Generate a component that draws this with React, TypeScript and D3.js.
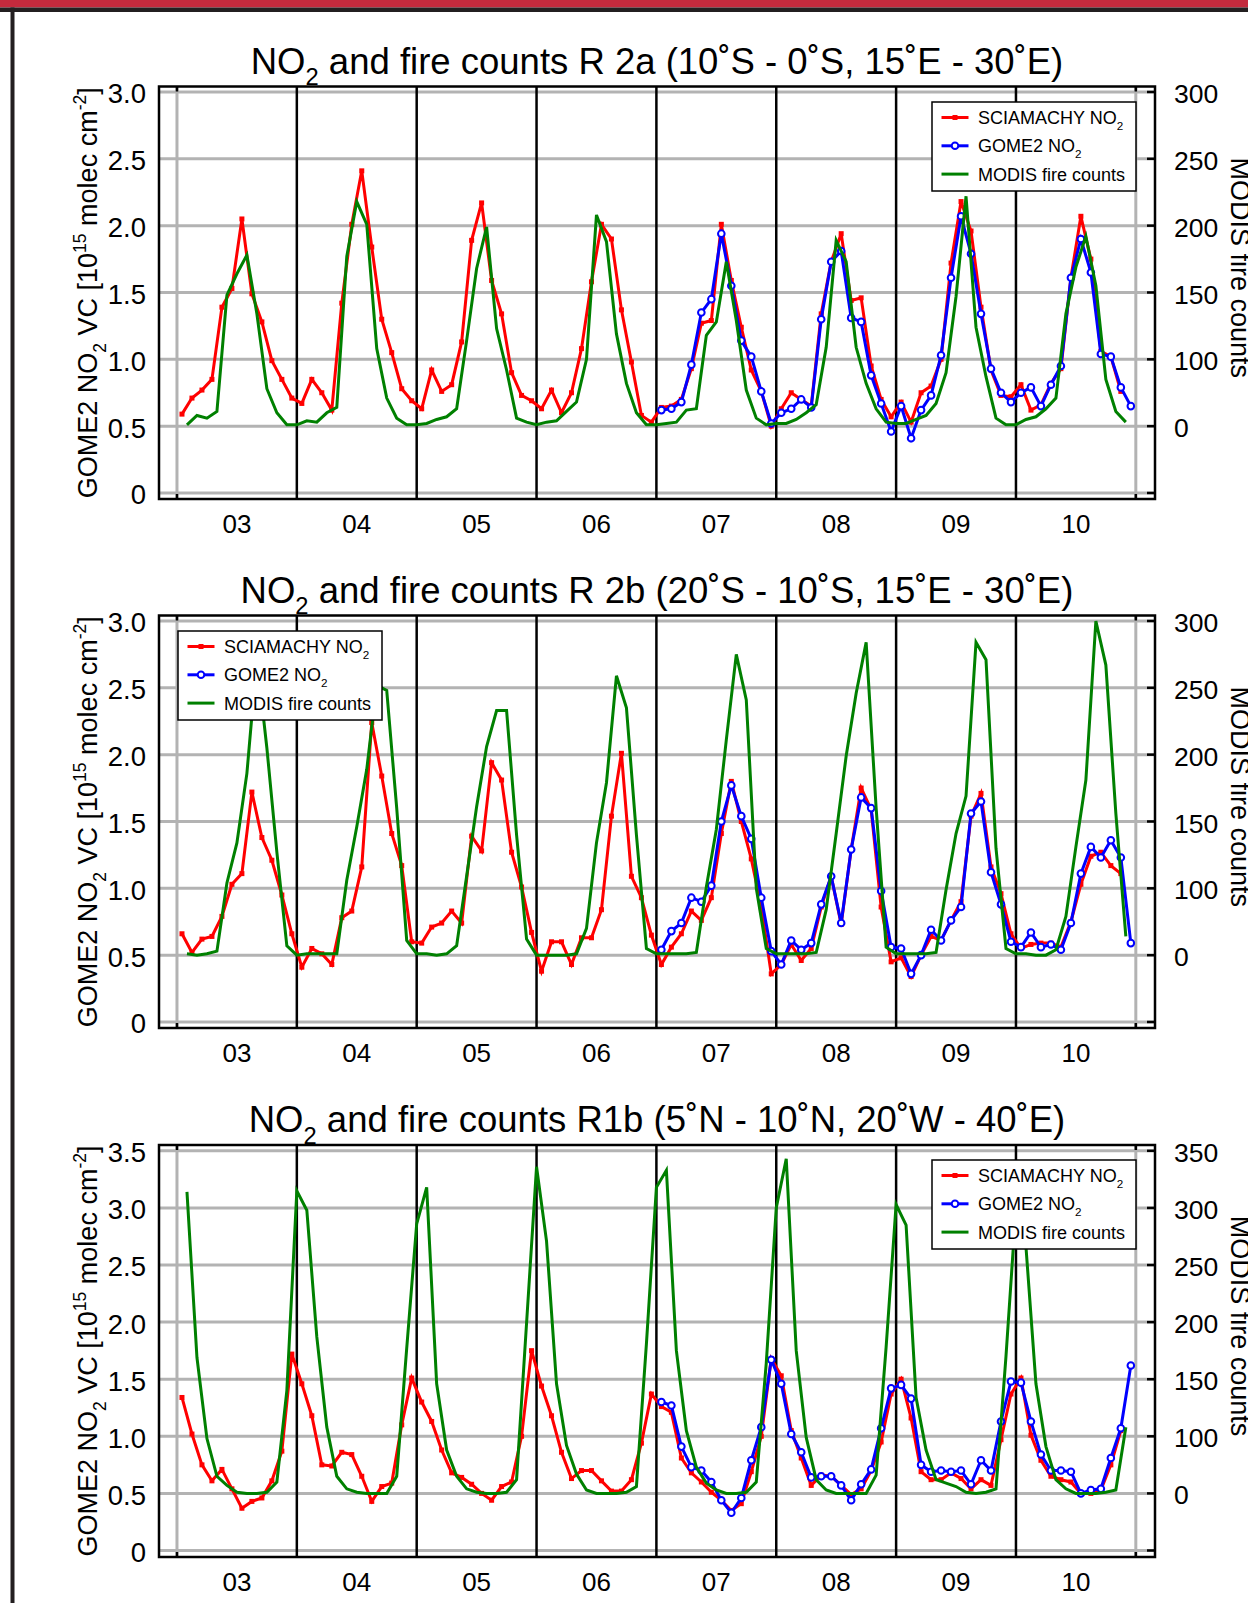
import { useEffect, useRef } from 'react';
import * as d3 from 'd3';

const W = 1248;
const H = 1603;
const FONT = "'Liberation Sans', Arial, Helvetica, sans-serif";

// monthly values, Jan 2003 onwards
const years = [2003, 2004, 2005, 2006, 2007, 2008, 2009, 2010];
const yearLabels = ['03', '04', '05', '06', '07', '08', '09', '10'];

// R 2a : SCIAMACHY (Jan 2003 - Nov 2010), GOME2 (Jan 2007 - Dec 2010), MODIS (counts)
const sciaR2a = [
  0.59, 0.71, 0.77, 0.85, 1.39, 1.53, 2.05, 1.49, 1.28, 0.99, 0.85, 0.71,
  0.67, 0.85, 0.75, 0.62, 1.42, 2.01, 2.41, 1.84, 1.30, 1.05, 0.78, 0.69,
  0.63, 0.92, 0.76, 0.81, 1.13, 1.89, 2.17, 1.59, 1.34, 0.90, 0.73, 0.69,
  0.63, 0.77, 0.60, 0.75, 1.08, 1.58, 2.01, 1.90, 1.37, 0.98, 0.58, 0.53,
  0.64, 0.65, 0.70, 0.93, 1.27, 1.29, 2.01, 1.59, 1.24, 0.92, 0.76, 0.50,
  0.63, 0.75, 0.70, 0.65, 1.34, 1.73, 1.94, 1.44, 1.46, 0.95, 0.70, 0.57,
  0.68, 0.53, 0.75, 0.80, 1.00, 1.72, 2.18, 1.96, 1.39, 0.92, 0.73, 0.72,
  0.81, 0.62, 0.66, 0.82, 0.93, 1.61, 2.07, 1.75, 1.06, 1.02, 0.76,
];
const gomeR2a = [
  0.62, 0.63, 0.68, 0.96, 1.35, 1.45, 1.94, 1.55, 1.14, 1.02, 0.76, 0.52,
  0.60, 0.63, 0.70, 0.64, 1.30, 1.73, 1.81, 1.31, 1.28, 0.88, 0.67, 0.46,
  0.65, 0.41, 0.62, 0.73, 1.03, 1.61, 2.07, 1.79, 1.34, 0.93, 0.75, 0.68,
  0.75, 0.79, 0.65, 0.81, 0.95, 1.61, 1.90, 1.65, 1.04, 1.02, 0.79, 0.65,
];
const modisR2a = [
  51, 58, 56, 61, 148, 164, 178, 134, 78, 60, 51, 51,
  54, 53, 60, 64, 177, 218, 201, 108, 71, 56, 51, 51,
  52, 55, 57, 63, 114, 168, 199, 123, 92, 56, 53, 51,
  53, 54, 61, 68, 100, 208, 188, 119, 82, 60, 51, 51,
  52, 53, 62, 63, 118, 128, 173, 129, 77, 56, 51, 52,
  52, 55, 60, 66, 109, 189, 173, 109, 82, 63, 53, 52,
  52, 55, 58, 67, 90, 147, 222, 124, 87, 56, 51, 51,
  55, 57, 63, 71, 134, 169, 192, 155, 85, 61, 53,
];

// R 2b
const sciaR2b = [
  0.66, 0.52, 0.62, 0.64, 0.79, 1.03, 1.11, 1.72, 1.38, 1.21, 0.95, 0.66,
  0.41, 0.55, 0.51, 0.43, 0.78, 0.83, 1.16, 2.24, 1.84, 1.41, 1.17, 0.60,
  0.59, 0.71, 0.74, 0.83, 0.74, 1.39, 1.28, 1.94, 1.81, 1.27, 1.01, 0.67,
  0.38, 0.60, 0.60, 0.43, 0.63, 0.63, 0.84, 1.54, 2.01, 1.09, 0.93, 0.65,
  0.43, 0.56, 0.66, 0.83, 0.76, 0.93, 1.41, 1.80, 1.50, 1.22, 0.86, 0.36,
  0.43, 0.58, 0.46, 0.55, 0.86, 1.09, 0.73, 1.29, 1.75, 1.59, 0.86, 0.45,
  0.48, 0.34, 0.50, 0.64, 0.61, 0.76, 0.90, 1.54, 1.71, 1.16, 0.96, 0.66,
  0.55, 0.58, 0.59, 0.59, 0.56, 0.75, 1.03, 1.24, 1.27, 1.17, 1.11,
];
const gomeR2b = [
  0.54, 0.68, 0.74, 0.93, 0.90, 1.02, 1.50, 1.77, 1.54, 1.37, 0.93, 0.53,
  0.43, 0.61, 0.54, 0.59, 0.88, 1.09, 0.74, 1.29, 1.68, 1.60, 0.98, 0.56,
  0.55, 0.36, 0.50, 0.69, 0.61, 0.76, 0.86, 1.56, 1.65, 1.12, 0.88, 0.60,
  0.56, 0.67, 0.56, 0.58, 0.54, 0.74, 1.11, 1.31, 1.23, 1.36, 1.23, 0.59,
];
const modisR2b = [
  51, 50, 51, 53, 104, 134, 186, 272, 205, 127, 57, 50,
  51, 51, 51, 51, 106, 146, 189, 252, 248, 160, 61, 51,
  51, 50, 51, 57, 109, 161, 206, 233, 233, 140, 62, 50,
  50, 50, 50, 51, 70, 134, 179, 259, 235, 140, 55, 51,
  51, 51, 51, 52, 101, 144, 211, 275, 241, 100, 55, 51,
  51, 51, 51, 52, 84, 141, 199, 246, 284, 160, 56, 51,
  51, 51, 51, 52, 99, 141, 169, 284, 271, 130, 55, 51,
  51, 50, 50, 54, 79, 131, 181, 300, 267, 156, 64,
];

// R1b
const sciaR1b = [
  1.34, 1.02, 0.75, 0.61, 0.71, 0.54, 0.37, 0.43, 0.46, 0.61, 0.87, 1.72,
  1.46, 1.18, 0.75, 0.74, 0.86, 0.84, 0.65, 0.43, 0.56, 0.59, 1.10, 1.51,
  1.30, 1.13, 0.88, 0.68, 0.64, 0.58, 0.50, 0.44, 0.56, 0.60, 1.00, 1.75,
  1.44, 1.18, 0.86, 0.63, 0.70, 0.70, 0.61, 0.52, 0.52, 0.62, 0.94, 1.37,
  1.26, 1.21, 0.81, 0.68, 0.60, 0.51, 0.44, 0.35, 0.41, 0.69, 1.00, 1.68,
  1.53, 1.05, 0.81, 0.57, 0.66, 0.65, 0.57, 0.49, 0.54, 0.70, 0.95, 1.37,
  1.50, 1.16, 0.69, 0.62, 0.62, 0.68, 0.63, 0.54, 0.62, 0.57, 0.97, 1.37,
  1.51, 1.01, 0.79, 0.65, 0.62, 0.60, 0.50, 0.50, 0.53, 0.75, 1.05,
];
const gomeR1b = [
  1.30, 1.27, 0.91, 0.73, 0.70, 0.60, 0.44, 0.33, 0.46, 0.79, 1.08, 1.67,
  1.46, 1.02, 0.86, 0.64, 0.65, 0.65, 0.57, 0.44, 0.58, 0.71, 1.07, 1.42,
  1.45, 1.33, 0.75, 0.69, 0.70, 0.69, 0.70, 0.58, 0.79, 0.70, 1.13, 1.48,
  1.47, 1.13, 0.84, 0.70, 0.70, 0.69, 0.50, 0.53, 0.54, 0.81, 1.07, 1.62,
];
const modisR1b = [
  314, 169, 98, 65, 57, 51, 50, 50, 51, 60, 140, 315,
  298, 187, 108, 65, 54, 51, 50, 50, 50, 65, 177, 286,
  318, 146, 88, 65, 54, 51, 50, 50, 51, 62, 199, 336,
  271, 146, 92, 67, 53, 50, 50, 50, 51, 56, 181, 318,
  333, 175, 105, 73, 59, 53, 50, 50, 51, 60, 164, 300,
  343, 175, 99, 62, 53, 50, 50, 50, 50, 66, 178, 303,
  285, 134, 88, 62, 59, 56, 51, 50, 51, 54, 170, 300,
  266, 146, 91, 62, 54, 50, 50, 50, 51, 53, 108,
];

const ticks30 = [0, 0.5, 1.0, 1.5, 2.0, 2.5, 3.0];
const ticks35 = [0, 0.5, 1.0, 1.5, 2.0, 2.5, 3.0, 3.5];
const rightTicks30 = [50, 100, 150, 200, 250, 300];
const rightLabels30 = ['0', '100', '150', '200', '250', '300'];
const rightTicks35 = [50, 100, 150, 200, 250, 300, 350];
const rightLabels35 = ['0', '100', '150', '200', '250', '300', '350'];

type Part = { t: string; sub?: boolean; sup?: boolean };

const panels = [
  {
    title: [{ t: 'NO' }, { t: '2', sub: true }, { t: ' and fire counts R 2a (10˚S - 0˚S, 15˚E - 30˚E)' }],
    top: 86.5, bottom: 499, domain: [-0.045, 3.041], ticks: ticks30,
    rTicks: rightTicks30, rLabels: rightLabels30,
    legend: [932, 102], scia: sciaR2a, gome: gomeR2a, modis: modisR2a,
  },
  {
    title: [{ t: 'NO' }, { t: '2', sub: true }, { t: ' and fire counts R 2b (20˚S - 10˚S, 15˚E - 30˚E)' }],
    top: 615.5, bottom: 1028, domain: [-0.045, 3.041], ticks: ticks30,
    rTicks: rightTicks30, rLabels: rightLabels30,
    legend: [178, 631], scia: sciaR2b, gome: gomeR2b, modis: modisR2b,
  },
  {
    title: [{ t: 'NO' }, { t: '2', sub: true }, { t: ' and fire counts R1b (5˚N - 10˚N, 20˚W - 40˚E)' }],
    top: 1145, bottom: 1557, domain: [-0.057, 3.551], ticks: ticks35,
    rTicks: rightTicks35, rLabels: rightLabels35,
    legend: [932, 1160], scia: sciaR1b, gome: gomeR1b, modis: modisR1b,
  },
];

function rich(sel: any, parts: Part[], size: number) {
  let shift = 0;
  parts.forEach((p) => {
    const target = p.sub ? size * 0.32 : p.sup ? -size * 0.42 : 0;
    sel.append('tspan')
      .attr('dy', target - shift)
      .attr('font-size', p.sub || p.sup ? size * 0.65 : size)
      .text(p.t);
    shift = target;
  });
}

const App = () => {
  const svgRef = useRef(null);

  useEffect(() => {
    const svg = d3.select(svgRef.current);
    svg.selectAll('*').remove();

    svg.append('rect').attr('width', W).attr('height', H).attr('fill', '#fff');
    svg.append('rect').attr('x', 0).attr('y', 0).attr('width', W).attr('height', 7.5).attr('fill', '#c42a3d');
    svg.append('rect').attr('x', 0).attr('y', 7.5).attr('width', W).attr('height', 4.5).attr('fill', '#231f20');
    svg.append('rect').attr('x', 10.5).attr('y', 7.5).attr('width', 4).attr('height', H).attr('fill', '#231f20');

    const x = d3.scaleLinear().domain([2002.85, 2011.16]).range([159, 1155]);
    const [xl, xr] = x.range();

    panels.forEach((p) => {
      const g = svg.append('g').attr('font-family', FONT);
      const y = d3.scaleLinear().domain(p.domain).range([p.bottom, p.top]);
      const yR = d3.scaleLinear().domain([p.domain[0] * 100, p.domain[1] * 100]).range([p.bottom, p.top]);

      // grid
      g.selectAll('.hg').data(p.ticks).enter().append('line')
        .attr('x1', xl).attr('x2', xr)
        .attr('y1', d => y(d)).attr('y2', d => y(d))
        .attr('stroke', '#b3b3b3').attr('stroke-width', 3);
      g.selectAll('.vg').data([2003, 2011]).enter().append('line')
        .attr('x1', d => x(d)).attr('x2', d => x(d))
        .attr('y1', p.top).attr('y2', p.bottom)
        .attr('stroke', '#b3b3b3').attr('stroke-width', 3);
      g.selectAll('.yr').data(years.slice(1)).enter().append('line')
        .attr('x1', d => x(d)).attr('x2', d => x(d))
        .attr('y1', p.top).attr('y2', p.bottom)
        .attr('stroke', '#000').attr('stroke-width', 2.5);

      const mid = (i: number) => 2003 + (i + 0.5) / 12;
      const sciaPts = p.scia.map((v, i) => [mid(i), v] as [number, number]);
      const gomePts = p.gome.map((v, i) => [mid(i + 48), v] as [number, number]);
      const modisPts = p.modis.map((v, i) => [2003 + (i + 1) / 12, v] as [number, number]);

      const line = d3.line<[number, number]>().x(d => x(d[0])).y(d => y(d[1]));
      const lineR = d3.line<[number, number]>().x(d => x(d[0])).y(d => yR(d[1]));

      g.append('path').attr('d', line(sciaPts)).attr('fill', 'none')
        .attr('stroke', '#ff0000').attr('stroke-width', 3).attr('stroke-linejoin', 'miter');
      g.selectAll('.sm').data(sciaPts).enter().append('rect')
        .attr('x', d => x(d[0]) - 2.5).attr('y', d => y(d[1]) - 2.5)
        .attr('width', 5).attr('height', 5).attr('fill', '#ff0000');

      g.append('path').attr('d', line(gomePts)).attr('fill', 'none')
        .attr('stroke', '#0000ff').attr('stroke-width', 3).attr('stroke-linejoin', 'miter');
      g.selectAll('.gm').data(gomePts).enter().append('circle')
        .attr('cx', d => x(d[0])).attr('cy', d => y(d[1])).attr('r', 3.3)
        .attr('fill', '#fff').attr('stroke', '#0000ff').attr('stroke-width', 2);

      g.append('path').attr('d', lineR(modisPts)).attr('fill', 'none')
        .attr('stroke', '#008000').attr('stroke-width', 3).attr('stroke-linejoin', 'miter');

      // frame and ticks
      g.append('rect').attr('x', xl).attr('y', p.top).attr('width', xr - xl).attr('height', p.bottom - p.top)
        .attr('fill', 'none').attr('stroke', '#000').attr('stroke-width', 2.5);
      g.selectAll('.rt').data(p.ticks).enter().append('line')
        .attr('x1', xr - 8).attr('x2', xr)
        .attr('y1', d => y(d)).attr('y2', d => y(d))
        .attr('stroke', '#000').attr('stroke-width', 2.5);
      [2003, 2011].forEach((d) => {
        g.append('line').attr('x1', x(d)).attr('x2', x(d)).attr('y1', p.top).attr('y2', p.top + 5)
          .attr('stroke', '#000').attr('stroke-width', 2.5);
        g.append('line').attr('x1', x(d)).attr('x2', x(d)).attr('y1', p.bottom - 5).attr('y2', p.bottom)
          .attr('stroke', '#000').attr('stroke-width', 2.5);
      });

      // legend
      const [lx, ly] = p.legend;
      const lg = g.append('g').attr('transform', `translate(${lx},${ly})`);
      lg.append('rect').attr('width', 204).attr('height', 89)
        .attr('fill', '#fff').attr('stroke', '#000').attr('stroke-width', 1.5);
      const items = [
        { c: '#ff0000', m: 'sq', label: [{ t: 'SCIAMACHY NO' }, { t: '2', sub: true }] },
        { c: '#0000ff', m: 'ci', label: [{ t: 'GOME2 NO' }, { t: '2', sub: true }] },
        { c: '#008000', m: '', label: [{ t: 'MODIS fire counts' }] },
      ];
      items.forEach((it, i) => {
        const cy = 15.5 + i * 28.3;
        lg.append('line').attr('x1', 9.5).attr('x2', 36.5).attr('y1', cy).attr('y2', cy)
          .attr('stroke', it.c).attr('stroke-width', 3);
        if (it.m === 'sq') {
          lg.append('rect').attr('x', 20.5).attr('y', cy - 2.5).attr('width', 5).attr('height', 5).attr('fill', it.c);
        } else if (it.m === 'ci') {
          lg.append('circle').attr('cx', 23).attr('cy', cy).attr('r', 3.3)
            .attr('fill', '#fff').attr('stroke', it.c).attr('stroke-width', 2);
        }
        const t = lg.append('text').attr('x', 46).attr('y', cy + 6.5).attr('font-size', 18).attr('fill', '#000');
        rich(t, it.label, 18);
      });

      // tick labels
      g.selectAll('.yl').data(p.ticks).enter().append('text')
        .attr('x', 146).attr('y', d => y(d) + 1.5).attr('dy', '0.36em')
        .attr('text-anchor', 'end').attr('font-size', 27.5)
        .text(d => (d === 0 ? '0' : d3.format('.1f')(d)));
      g.selectAll('.rl').data(p.rTicks).enter().append('text')
        .attr('x', 1174).attr('y', d => yR(d) + 1.5).attr('dy', '0.36em')
        .attr('font-size', 26.5)
        .text((d, i) => p.rLabels[i]);
      g.selectAll('.xl').data(years).enter().append('text')
        .attr('x', d => x(d + 0.5)).attr('y', p.bottom + 25).attr('dy', '0.36em')
        .attr('text-anchor', 'middle').attr('font-size', 26)
        .text((d, i) => yearLabels[i]);

      // titles
      const tt = g.append('text').attr('x', (xl + xr) / 2).attr('y', p.top - 13)
        .attr('text-anchor', 'middle').attr('font-size', 36.5);
      rich(tt, p.title, 36.5);

      const cy = (p.top + p.bottom) / 2;
      const lt = g.append('text').attr('transform', `translate(97,${cy}) rotate(-90)`)
        .attr('text-anchor', 'middle').attr('font-size', 27);
      rich(lt, [{ t: 'GOME2 NO' }, { t: '2', sub: true }, { t: ' VC [10' }, { t: '15', sup: true },
        { t: ' molec cm' }, { t: '-2', sup: true }, { t: ']' }], 27);

      g.append('text').attr('transform', `translate(1231,${cy - 25}) rotate(90)`)
        .attr('text-anchor', 'middle').attr('font-size', 27).text('MODIS fire counts');
    });
  }, []);

  return (
    <div style={{ position: 'absolute', left: 0, top: 0, width: W, height: H }}>
      <svg ref={svgRef} width={W} height={H} style={{ display: 'block' }}></svg>
    </div>
  );
};

export default App;
